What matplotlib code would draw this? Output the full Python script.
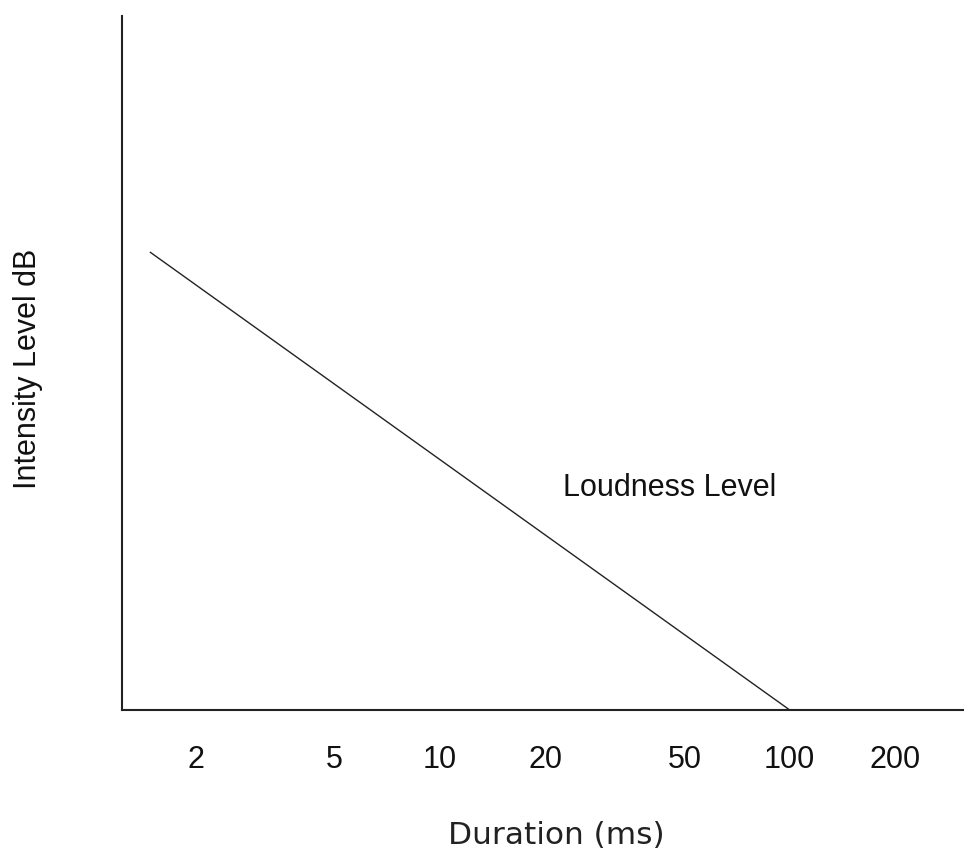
import matplotlib
matplotlib.use("Agg")
import matplotlib.pyplot as plt

# Data
tick_values = [2, 5, 10, 20, 50, 100, 200]
tick_labels = ["2", "5", "10", "20", "50", "100", "200"]
line_duration = [1.48, 100]   # ms
line_level = [66, 0]          # arbitrary intensity units (no y ticks)
label_text = "Loudness Level"
label_pos = (22.5, 32)

plt.rcParams["font.family"] = ["Liberation Sans", "DejaVu Sans"]

fig = plt.figure(figsize=(9.64, 8.52), dpi=100)
W, H = 964, 852
ax = fig.add_axes([122 / W, 1 - 710 / H, (W - 122) / W, (710 - 16) / H])

ax.plot(line_duration, line_level, color="#222222", lw=1.0, solid_capstyle="butt")
ax.text(label_pos[0], label_pos[1], label_text, fontsize=22,
        ha="left", va="center", color="#111111")

ax.set_xscale("log")
ax.set_xlim(1.232, 315)
ax.set_ylim(0, 100)
ax.set_xticks(tick_values)
ax.set_xticklabels(tick_labels)
ax.minorticks_off()
ax.set_yticks([])
ax.tick_params(axis="x", length=0, pad=25, labelsize=22, labelcolor="#111111")

for side in ["top", "right"]:
    ax.spines[side].set_visible(False)
for side in ["left", "bottom"]:
    ax.spines[side].set_linewidth(1.5)
    ax.spines[side].set_color("#222222")

fig.text(28 / W, 1 - 369 / H, "Intensity Level dB", rotation=90,
         ha="center", va="center", fontsize=22, color="#111111")
fig.text(556 / W, 1 - 835 / H, "Duration (ms)", ha="center", va="center",
         fontsize=22.5, family="DejaVu Sans", color="#222222")

fig.savefig("out.png", dpi=100)
